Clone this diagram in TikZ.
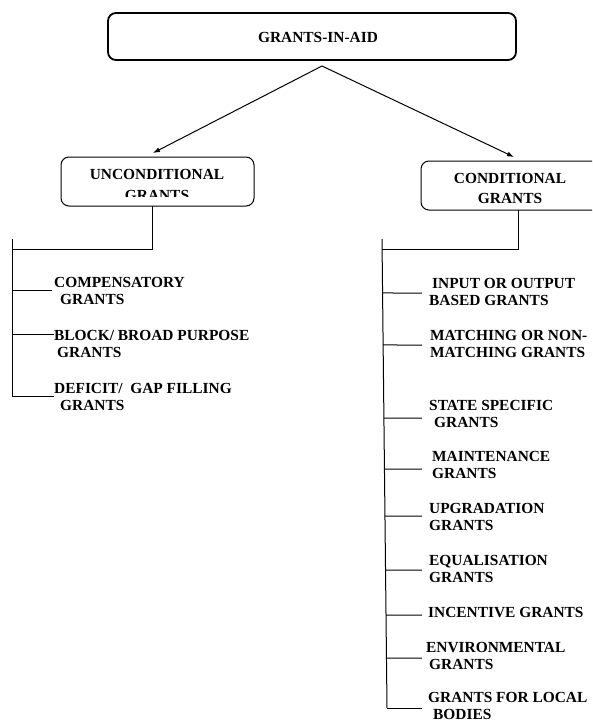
\documentclass[tikz,border=0pt]{standalone}
\usepackage{fontspec}
\setmainfont{Liberation Serif}
\usetikzlibrary{arrows.meta,calc}
\begin{document}
\begin{tikzpicture}[x=1pt,y=-1pt,
  txt/.style={anchor=west,inner sep=0pt,align=left,font=\bfseries\fontsize{15.4}{17}\selectfont,text=black},
  boxshape/.style={draw,rounded corners=8pt,line width=1pt},
  conn/.style={line width=1pt},
  arr/.style={line width=1pt,-{Latex[length=7pt,width=5pt]}}]
\useasboundingbox (0,0) rectangle (592,720);
\clip (0,0) rectangle (592,720);
\fill[white] (0,0) rectangle (592,720);
% top box
\draw[boxshape,line width=1.8pt] (108,13) rectangle (516,60);
\node[txt,anchor=center] (top) at (318,37) {GRANTS-IN-AID};
\coordinate (apex) at (322,66);
% unconditional box
\draw[boxshape] (61,157) rectangle (254,206);
\coordinate (ubot) at (152,206);
\begin{scope}
\clip (61,157) rectangle (254,196);
\node[txt,align=center,anchor=center,font=\bfseries\fontsize{15.4}{21}\selectfont] (uncond) at (157,184.5) {UNCONDITIONAL\\GRANTS};
\end{scope}
% conditional box
\draw[boxshape] (421,161) rectangle (610,210);
\coordinate (cbot) at (518,210);
\begin{scope}
\clip (421,161) rectangle (610,203);
\node[txt,align=center,anchor=center,font=\bfseries\fontsize{15.4}{20}\selectfont] (cond) at (510,188) {CONDITIONAL\\GRANTS};
\end{scope}
% arrows
\coordinate (utip) at (153,153);
\coordinate (ctip) at (514,157);
\draw[arr] (apex) -- (utip);
\draw[arr] (apex) -- (ctip);
% left tree
\coordinate (ltop) at (12,239);
\coordinate (ljoin) at (12,249);
\coordinate (lbot) at (12,396);
\draw[conn] (ubot) |- (ljoin);
\draw[conn] (ltop) -- (lbot);
\coordinate (lb1) at (52,290);
\coordinate (lb2) at (54,334);
\coordinate (lb3) at (54,396);
\draw[conn] (ltop |- lb1) -- (lb1);
\draw[conn] (ltop |- lb2) -- (lb2);
\draw[conn] (lbot) -- (lb3);
\node[txt] (l1) at (54,290.5) {COMPENSATORY\\\hspace*{6pt}GRANTS};
\node[txt] (l2) at (54,343.5) {BLOCK/ BROAD PURPOSE\\\hspace*{3pt}GRANTS};
\node[txt] (l3) at (54,396.5) {DEFICIT/\ \ GAP FILLING\\\hspace*{6pt}GRANTS};
% right tree
\coordinate (rtop) at (382,239);
\coordinate (rjoin) at (382,249);
\coordinate (rbot) at (387,708);
\draw[conn] (cbot) |- (rjoin);
\draw[conn] (rtop) -- (rbot);
\foreach \n/\yy/\xe in {1/293/422, 2/345/422, 3/418/422, 4/469/422, 5/516/422, 6/570/422, 7/615/422, 8/658/422}{
  \coordinate (rb\n) at (\xe,\yy);
  \draw[conn] ($(rtop)!{(\yy-239)/(708-239)}!(rbot)$) -- (rb\n);
}
\coordinate (rb9) at (422,708);
\draw[conn] (rbot) -- (rb9);
\node[txt] (r1) at (429,291.5) {\hspace*{3pt}INPUT OR OUTPUT\\BASED GRANTS};
\node[txt] (r2) at (430,343.5) {MATCHING OR NON-\\MATCHING GRANTS};
\node[txt] (r3) at (429,413.5) {STATE\ SPECIFIC\\\hspace*{5pt}GRANTS};
\node[txt] (r4) at (432,465) {MAINTENANCE\\GRANTS};
\node[txt] (r5) at (429,516.5) {UPGRADATION\\GRANTS};
\node[txt] (r6) at (429,569) {EQUALISATION\\GRANTS};
\node[txt] (r7) at (428,613) {INCENTIVE GRANTS};
\node[txt] (r8) at (426,655.5) {ENVIRONMENTAL\\\hspace*{3pt}GRANTS};
\node[txt] (r9) at (428,705.5) {GRANTS FOR LOCAL\\\hspace*{5pt}BODIES};
\end{tikzpicture}
\end{document}
